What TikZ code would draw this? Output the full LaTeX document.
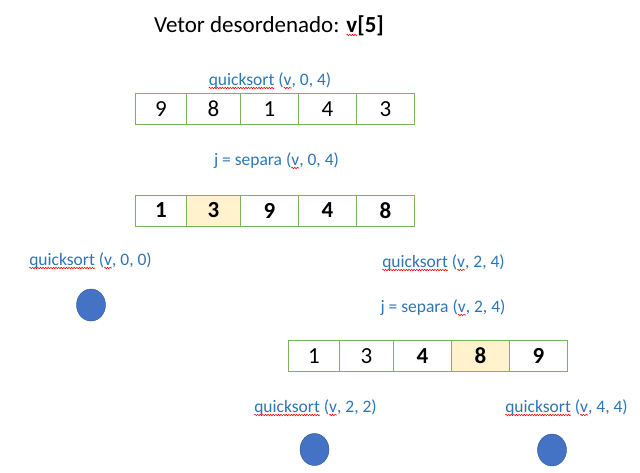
\documentclass[tikz,border=0pt]{standalone}
\usepackage{fontspec}
\setmainfont{Carlito}
\usepackage{tikz}
\usetikzlibrary{positioning,shapes.geometric,decorations.pathmorphing}

\definecolor{cellgreen}{RGB}{125,180,90}
\definecolor{callblue}{RGB}{46,117,182}
\definecolor{pivotfill}{RGB}{255,242,204}
\definecolor{leaffill}{RGB}{68,114,196}
\definecolor{leafedge}{RGB}{47,82,143}

% wavy red mark under a word
\newsavebox{\spellbox}
\newcommand{\spell}[1]{\sbox{\spellbox}{#1}\rlap{\tikz[overlay]
  \draw[red,line width=0.6pt,decorate,decoration={snake,amplitude=0.7pt,segment length=2.6pt}]
  (0pt,-3pt) -- (\wd\spellbox,-3pt);}\usebox{\spellbox}}

\begin{document}
\begin{tikzpicture}[x=1pt,y=-1pt,
  box/.style={draw=cellgreen,line width=1pt,minimum height=31pt,inner sep=0pt,
    font=\fontsize{23}{26}\selectfont},
  pivot/.style={box,fill=pivotfill},
  arrayrow/.style={column sep=-1pt,nodes={minimum width=58pt},
    column 1/.style={nodes={minimum width=51pt}},
    column 2/.style={nodes={minimum width=54pt}}},
  call/.style={text=callblue,anchor=base,inner sep=0pt,
    font=\fontsize{17.5}{20}\selectfont},
  leaf/.style={ellipse,draw=leafedge,fill=leaffill,minimum width=29pt,
    minimum height=32pt,inner sep=0pt}]
    \useasboundingbox (0,0) rectangle (640,472);
    \node (title) [anchor=base,inner sep=0pt,font=\fontsize{23}{26}\selectfont]
      at (269,32) {Vetor desordenado: \textbf{\spell{v}[5]}};

    % first call
    \node (call_0_4) [call] at (270,85) {\spell{quicksort} (\spell{v}, 0, 4)};
    \matrix (array_start) at (275,109) [arrayrow] {
      \node (start_0) [box] {9}; &
      \node (start_1) [box] {8}; &
      \node (start_2) [box] {1}; &
      \node (start_3) [box] {4}; &
      \node (start_4) [box] {3}; \\
    };
    \node (split_0_4) [call] at (276.5,165) {j = separa (\spell{v}, 0, 4)};
    \matrix (array_split) at (275,210.5) [arrayrow] {
      \node (split_0) [box] {\textbf{1}}; &
      \node (split_1) [pivot] {\textbf{3}}; &
      \node (split_2) [box] {\textbf{9}}; &
      \node (split_3) [box] {\textbf{4}}; &
      \node (split_4) [box] {\textbf{8}}; \\
    };

    % left part
    \node (call_0_0) [call] at (90.5,265) {\spell{quicksort} (\spell{v}, 0, 0)};
    \node (leaf_0_0) [leaf] at (91,305) {};

    % right part
    \node (call_2_4) [call] at (443.5,267) {\spell{quicksort} (\spell{v}, 2, 4)};
    \node (split_2_4) [call] at (443,312) {j = separa (\spell{v}, 2, 4)};
    \matrix (array_right) at (428,356) [arrayrow] {
      \node (right_0) [box] {1}; &
      \node (right_1) [box] {3}; &
      \node (right_2) [box] {\textbf{4}}; &
      \node (right_3) [pivot] {\textbf{8}}; &
      \node (right_4) [box] {\textbf{9}}; \\
    };
    \node (call_2_2) [call] at (315.5,412) {\spell{quicksort} (\spell{v}, 2, 2)};
    \node (leaf_2_2) [leaf] at (314.5,449.5) {};
    \node (call_4_4) [call] at (566.5,412) {\spell{quicksort} (\spell{v}, 4, 4)};
    \node (leaf_4_4) [leaf] at (552,450) {};
\end{tikzpicture}
\end{document}
